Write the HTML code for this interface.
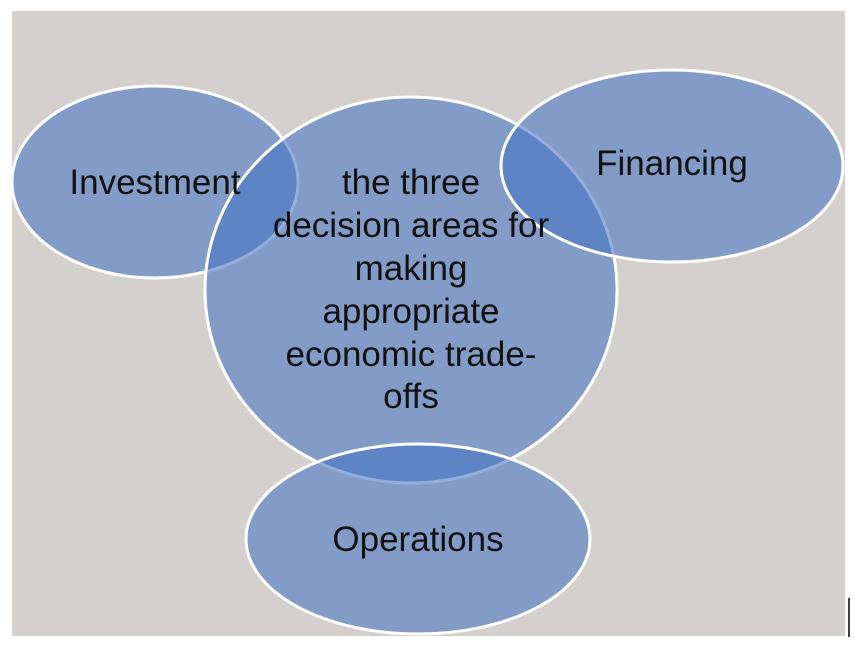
<!DOCTYPE html>
<html><head><style>
html,body{margin:0;padding:0;background:#fff;width:855px;height:649px;overflow:hidden}
</style></head><body>
<svg width="855" height="649" viewBox="0 0 855 649" xmlns="http://www.w3.org/2000/svg">
<rect x="12" y="11" width="833" height="625" fill="#d3d0cd"/>
<line x1="849" y1="598" x2="849" y2="637" stroke="#000" stroke-width="1.5"/>
<g fill="rgb(68,114,196)" fill-opacity="0.57" stroke="#fff" stroke-width="3">
<ellipse cx="155" cy="182" rx="143" ry="96"/>
<ellipse cx="411" cy="290" rx="206" ry="193"/>
<ellipse cx="672" cy="166" rx="171" ry="96"/>
<ellipse cx="418" cy="539" rx="172" ry="95"/>
</g>
<g font-family="Liberation Sans, sans-serif" font-size="35" fill="#111" text-anchor="middle">
<text x="155" y="194">Investment</text>
<text x="672" y="175">Financing</text>
<text x="418" y="551">Operations</text>
<text x="411" y="194">the three</text>
<text x="411" y="237">decision areas for</text>
<text x="411" y="280">making</text>
<text x="411" y="323">appropriate</text>
<text x="411" y="366">economic trade-</text>
<text x="411" y="408">offs</text>
</g>
</svg>
</body></html>
